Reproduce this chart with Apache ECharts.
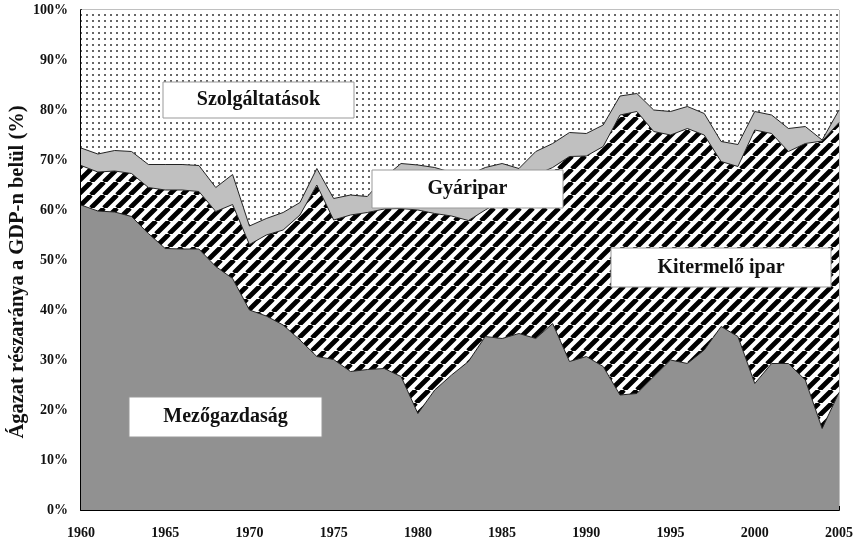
<!DOCTYPE html>
<html>
<head>
<meta charset="utf-8">
<script src="https://cdn.jsdelivr.net/npm/echarts@6/dist/echarts.min.js"></script>
<style>html,body{margin:0;padding:0;background:#fff}#c{width:856px;height:543px}</style>
</head>
<body>
<div id="c"></div>
<script>
const years = ['1960','1961','1962','1963','1964','1965','1966','1967','1968','1969',
  '1970','1971','1972','1973','1974','1975','1976','1977','1978','1979',
  '1980','1981','1982','1983','1984','1985','1986','1987','1988','1989',
  '1990','1991','1992','1993','1994','1995','1996','1997','1998','1999',
  '2000','2001','2002','2003','2004','2005'];
const mezogazdasag = [61.0,59.8,59.6,58.7,55.3,52.3,52.2,52.2,48.7,46.3,
  40.0,38.8,37.0,34.0,30.7,30.1,27.7,28.1,28.3,26.7,
  19.3,24.0,27.0,29.7,34.7,34.3,35.3,34.3,37.3,29.7,
  30.7,28.7,23.0,23.3,26.7,30.0,29.3,32.0,36.7,34.7,
  25.3,29.3,29.3,26.0,16.3,23.5];
const kitermeloIpar = [7.9,7.8,8.2,8.6,9.2,11.7,11.8,11.5,11.0,14.8,
  13.1,16.2,19.0,25.0,34.3,27.9,31.3,31.4,31.9,33.6,
  40.7,35.3,31.8,28.2,25.3,27.7,29.2,32.7,31.2,41.0,
  40.1,44.0,56.0,56.4,49.0,45.0,47.0,43.0,33.0,34.0,
  50.7,46.0,42.4,47.3,57.5,54.0];
const gyaripar = [3.5,3.6,4.1,4.4,4.6,5.1,5.1,5.2,4.8,6.0,
  3.7,3.3,3.5,2.5,3.3,4.3,4.0,3.2,6.3,9.0,
  9.0,9.2,8.7,9.1,8.5,7.3,3.8,4.7,4.8,4.8,
  4.5,4.3,3.8,3.6,4.3,4.7,4.4,4.3,4.0,4.4,
  3.7,3.7,4.6,3.4,0.2,2.5];
const szolgaltatasok = [27.6,28.8,28.1,28.3,30.9,30.9,30.9,31.1,35.5,32.9,
  43.2,41.7,40.5,38.5,31.7,37.7,37.0,37.3,33.5,30.7,
  31.0,31.5,32.5,33.0,31.5,30.7,31.7,28.3,26.7,24.5,
  24.7,23.0,17.2,16.7,20.0,20.3,19.3,20.7,26.3,26.9,
  20.3,21.0,23.7,23.3,26.0,20.0];
const seriesNames = ['Mezőgazdaság','Kitermelő ipar','Gyáripar','Szolgáltatások'];
const yTitle = 'Ágazat részaránya a GDP-n belül (%)';

function hatchPattern(){
  const p = 13, c = document.createElement('canvas');
  c.width = p; c.height = p;
  const g = c.getContext('2d');
  g.fillStyle = '#fff'; g.fillRect(0,0,p,p);
  g.strokeStyle = '#000'; g.lineWidth = 4.8;
  g.beginPath();
  for (const k of [-1,0,1]) { g.moveTo(k*p, p); g.lineTo(k*p+p, 0); }
  g.stroke();
  return c;
}
function dotPattern(){
  const c = document.createElement('canvas');
  c.width = 6; c.height = 6;
  const g = c.getContext('2d');
  g.fillStyle = '#fff'; g.fillRect(0,0,6,6);
  g.fillStyle = '#666'; g.fillRect(2,2,2,2);
  return c;
}

const serif = '"Liberation Serif","Times New Roman",serif';
const chart = echarts.init(document.getElementById('c'), null, {renderer:'canvas'});
const line = {color:'#222', width:1};
function box(x,y,w,h,txt){
  return [
    {type:'rect', z:100, shape:{x:x,y:y,width:w,height:h}, style:{fill:'#fff', stroke:'#999', lineWidth:1}},
    {type:'text', z:101, x:x+w/2, y:y+h/2, style:{text:txt, fill:'#111', font:'bold 20px '+serif, textAlign:'center', textVerticalAlign:'middle'}}
  ];
}
chart.setOption({
  animation:false,
  backgroundColor:'#fff',
  grid:{left:81, top:10, right:14, bottom:33, show:true, borderColor:'#808080', borderWidth:1, backgroundColor:'transparent'},
  xAxis:{type:'category', data:years, boundaryGap:false,
    axisLine:{lineStyle:{color:'#000', width:2}},
    axisTick:{inside:true, length:4, interval:0, lineStyle:{color:'#000'}},
    axisLabel:{interval:4, margin:16, color:'#111', fontFamily:serif, fontWeight:'bold', fontSize:14},
    splitLine:{show:false}},
  yAxis:{type:'value', min:0, max:100, interval:10,
    axisLine:{show:true, lineStyle:{color:'#000', width:2}},
    axisTick:{show:true, inside:true, length:4, lineStyle:{color:'#000'}},
    axisLabel:{formatter:'{value}%', margin:13, color:'#111', fontFamily:serif, fontWeight:'bold', fontSize:14},
    splitLine:{show:false}},
  series:[
    {name:seriesNames[0], type:'line', stack:'t', data:mezogazdasag, symbol:'none', lineStyle:line, areaStyle:{color:'#919191', opacity:1}},
    {name:seriesNames[1], type:'line', stack:'t', data:kitermeloIpar, symbol:'none', lineStyle:line, areaStyle:{color:{image:hatchPattern(), repeat:'repeat'}, opacity:1}},
    {name:seriesNames[2], type:'line', stack:'t', data:gyaripar, symbol:'none', lineStyle:line, areaStyle:{color:'#c0c0c0', opacity:1}},
    {name:seriesNames[3], type:'line', stack:'t', data:szolgaltatasok, symbol:'none', lineStyle:{width:0}, areaStyle:{color:{image:dotPattern(), repeat:'repeat'}, opacity:1}}
  ],
  graphic:[].concat(
    box(163,82,191,36,seriesNames[3]),
    box(372,170,191,38,seriesNames[2]),
    box(611,248,220,39,seriesNames[1]),
    box(129,397,193,40,seriesNames[0]),
    [{type:'text', z:101, x:18, y:272, rotation:Math.PI/2,
      style:{text:yTitle, fill:'#111', font:'bold 20.5px '+serif, textAlign:'center', textVerticalAlign:'middle'}}]
  )
});
</script>
</body>
</html>
